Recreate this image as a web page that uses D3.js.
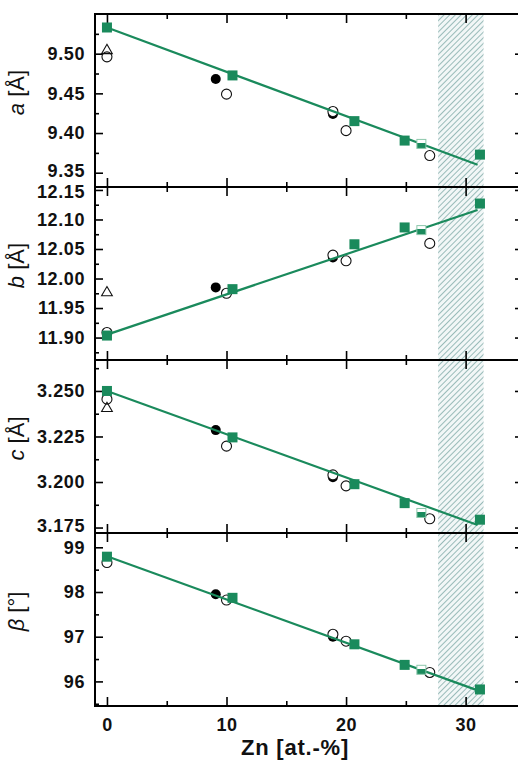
<!DOCTYPE html>
<html><head><meta charset="utf-8">
<script src="https://cdn.jsdelivr.net/npm/d3@7"></script>
<style>body{margin:0;background:#fff}svg{display:block}</style>
</head><body><svg id="chart" width="518" height="762"></svg>
<script>
// ---------- data ----------
const xDomain = [-1, 34.8];
const xTicksMajor = [0, 10, 20, 30];
const xTicksMinor = [5, 15, 25];
const hatchRange = [27.7, 31.5];
const fitX = [0, 31];

const squareX = [0, 10.5, 20.7, 24.9, 31.2];
const halfSquareX = [26.3];
const openCircleX = [0, 10.0, 18.9, 20.0, 27.0];
const filledCircleX = [9.1, 18.9];
const triangleX = [0];

// panel a
const aDomain = [9.332, 9.55];
const aTicks = [9.35, 9.40, 9.45, 9.50];
const aMinor = [9.375, 9.425, 9.475, 9.525];
const aSquares = [9.533, 9.4726, 9.415, 9.3905, 9.3728];
const aHalf = [9.3863];
const aOpen = [9.496, 9.449, 9.4271, 9.403, 9.3716];
const aFilled = [9.468, 9.424];
const aTri = [9.504];
const aFit = [9.533, 9.360];

// panel b
const bDomain = [11.862, 12.155];
const bTicks = [11.90, 11.95, 12.00, 12.05, 12.10, 12.15];
const bMinor = [11.875, 11.925, 11.975, 12.025, 12.075, 12.125];
const bSquares = [11.9034, 11.982, 12.058, 12.0865, 12.127];
const bHalf = [12.082];
const bOpen = [11.9085, 11.975, 12.0397, 12.030, 12.0595];
const bFilled = [11.985, 12.0358];
const bTri = [11.976];
const bFit = [11.905, 12.116];

// panel c
const cDomain = [3.172, 3.267];
const cTicks = [3.175, 3.200, 3.225, 3.250];
const cMinor = [3.1875, 3.2125, 3.2375, 3.2625];
const cSquares = [3.250, 3.2245, 3.1988, 3.1884, 3.1793];
const cHalf = [3.183];
const cOpen = [3.2455, 3.2197, 3.2039, 3.1979, 3.1798];
const cFilled = [3.2285, 3.2026];
const cTri = [3.2404];
const cFit = [3.250, 3.1764];

// panel beta
const dDomain = [95.45, 99.32];
const dTicks = [96, 97, 98, 99];
const dMinor = [95.5, 96.5, 97.5, 98.5];
const dSquares = [98.79, 97.87, 96.83, 96.37, 95.82];
const dHalf = [96.26];
const dOpen = [98.66, 97.82, 97.054, 96.90, 96.20];
const dFilled = [97.95, 97.00];
const dTri = [];
const dFit = [98.80, 95.80];

const xTitle = "Zn [at.-%]";

// ---------- layout ----------
const pL = 95, pR = 523, pT = 14, panelH = 173;
const green = "#1a8a5c";
const svg = d3.select("#chart");
const x = d3.scaleLinear().domain(xDomain).range([pL, pR]);

const panels = [
  {v:"a", unit:"[Å]", dom:aDomain, ticks:aTicks, minor:aMinor, fmt:".2f", sq:aSquares, half:aHalf, open:aOpen, filled:aFilled, tri:aTri, fit:aFit},
  {v:"b", unit:"[Å]", dom:bDomain, ticks:bTicks, minor:bMinor, fmt:".2f", sq:bSquares, half:bHalf, open:bOpen, filled:bFilled, tri:bTri, fit:bFit},
  {v:"c", unit:"[Å]", dom:cDomain, ticks:cTicks, minor:cMinor, fmt:".3f", sq:cSquares, half:cHalf, open:cOpen, filled:cFilled, tri:cTri, fit:cFit},
  {v:"β", unit:"[°]", dom:dDomain, ticks:dTicks, minor:dMinor, fmt:"d", sq:dSquares, half:dHalf, open:dOpen, filled:dFilled, tri:dTri, fit:dFit}
];

const defs = svg.append("defs");
const pat = defs.append("pattern").attr("id","hatch").attr("patternUnits","userSpaceOnUse")
  .attr("width",4).attr("height",4).attr("patternTransform","rotate(45)");
pat.append("rect").attr("width",4).attr("height",4).attr("fill","#f2f7f7");
pat.append("line").attr("x1",0).attr("y1",0).attr("x2",0).attr("y2",4)
  .attr("stroke","#5d9290").attr("stroke-width",1.2);
const grad = defs.append("linearGradient").attr("id","halfsq").attr("x1",0).attr("y1",0).attr("x2",0).attr("y2",1);
grad.append("stop").attr("offset","0.4").attr("stop-color","#ffffff");
grad.append("stop").attr("offset","0.4").attr("stop-color",green);

const pB = pT + panelH * panels.length;

// hatch spanning all panels
svg.append("rect")
  .attr("x", x(hatchRange[0])).attr("width", x(hatchRange[1]) - x(hatchRange[0]))
  .attr("y", pT).attr("height", pB - pT)
  .attr("fill","url(#hatch)");

const tickFont = "'Liberation Sans', Arial, sans-serif";

panels.forEach((p, i) => {
  const y0 = pT + i * panelH, y1 = y0 + panelH;
  const y = d3.scaleLinear().domain(p.dom).range([y1, y0]);
  const g = svg.append("g");

  // axes
  const yAx = g.append("g").attr("transform",`translate(${pL},0)`)
    .call(d3.axisLeft(y).tickValues(p.ticks).tickFormat(d3.format(p.fmt)).tickSizeInner(-8).tickSizeOuter(0).tickPadding(10));
  yAx.select(".domain").remove();
  yAx.selectAll("text").attr("font-family",tickFont).attr("font-weight","bold").attr("font-size",18).attr("letter-spacing","0.6px").attr("fill","#111");
  // keep stacked labels at panel joins apart, as in the reference
  yAx.selectAll(".tick").filter(d => y(d) > y1 - 20).select("text").attr("dy","0.2em");
  yAx.selectAll(".tick").filter(d => y(d) < y0 + 6).select("text").attr("dy","0.42em");
  const yMin = g.append("g").attr("transform",`translate(${pL},0)`)
    .call(d3.axisLeft(y).tickValues(p.minor).tickFormat("").tickSizeInner(-4).tickSizeOuter(0));
  yMin.select(".domain").remove();
  const yR = g.append("g").attr("transform",`translate(${pR},0)`)
    .call(d3.axisRight(y).tickValues(p.ticks).tickFormat("").tickSizeInner(-8).tickSizeOuter(0));
  yR.select(".domain").remove();
  const yRm = g.append("g").attr("transform",`translate(${pR},0)`)
    .call(d3.axisRight(y).tickValues(p.minor).tickFormat("").tickSizeInner(-4).tickSizeOuter(0));
  yRm.select(".domain").remove();

  const xTop = g.append("g").attr("transform",`translate(0,${y0})`)
    .call(d3.axisTop(x).tickValues(xTicksMajor).tickFormat("").tickSizeInner(-9).tickSizeOuter(0));
  xTop.select(".domain").remove();
  const xTopM = g.append("g").attr("transform",`translate(0,${y0})`)
    .call(d3.axisTop(x).tickValues(xTicksMinor).tickFormat("").tickSizeInner(-5).tickSizeOuter(0));
  xTopM.select(".domain").remove();
  const isLast = i === panels.length - 1;
  const xBot = g.append("g").attr("transform",`translate(0,${y1})`)
    .call(d3.axisBottom(x).tickValues(xTicksMajor).tickFormat(isLast ? d3.format("d") : "").tickSizeInner(-9).tickSizeOuter(0).tickPadding(12));
  xBot.select(".domain").remove();
  xBot.selectAll("text").attr("font-family",tickFont).attr("font-weight","bold").attr("font-size",18).attr("letter-spacing","0.6px").attr("fill","#111");
  const xBotM = g.append("g").attr("transform",`translate(0,${y1})`)
    .call(d3.axisBottom(x).tickValues(xTicksMinor).tickFormat("").tickSizeInner(-5).tickSizeOuter(0));
  xBotM.select(".domain").remove();
  g.selectAll(".tick line").attr("stroke","#000").attr("stroke-width",1.6);

  // frame
  g.append("rect").attr("x",pL).attr("y",y0).attr("width",pR-pL).attr("height",panelH)
    .attr("fill","none").attr("stroke","#000").attr("stroke-width",2);

  // y title
  const t = g.append("text")
    .attr("transform",`translate(24,${(y0+y1)/2 - 8}) rotate(-90)`)
    .attr("text-anchor","middle").attr("font-family",tickFont).attr("font-size",22).attr("fill","#111");
  t.append("tspan").attr("font-style","italic").text(p.v);
  t.append("tspan").text(" " + p.unit);

  // markers
  g.selectAll(".fc").data(p.filled).join("circle")
    .attr("cx",(d,j)=>x(filledCircleX[j])).attr("cy",d=>y(d)).attr("r",5).attr("fill","#000");
  g.selectAll(".oc").data(p.open).join("circle")
    .attr("cx",(d,j)=>x(openCircleX[j])).attr("cy",d=>y(d)).attr("r",5)
    .attr("fill","#fff").attr("stroke","#111").attr("stroke-width",1.1);
  const tri = d3.symbol().type(d3.symbolTriangle).size(50);
  g.selectAll(".tr").data(p.tri).join("path")
    .attr("d",tri).attr("transform",(d,j)=>`translate(${x(triangleX[j])},${y(d)})`)
    .attr("fill","none").attr("stroke","#111").attr("stroke-width",1.1);

  // fit line
  g.append("path").datum(p.fit)
    .attr("d", d3.line().x((d,j)=>x(fitX[j])).y(d=>y(d)))
    .attr("fill","none").attr("stroke",green).attr("stroke-width",2.2);

  // squares
  g.selectAll(".hs").data(p.half).join("rect")
    .attr("x",(d,j)=>x(halfSquareX[j])-4.5).attr("y",d=>y(d)-4.5).attr("width",9).attr("height",9)
    .attr("fill","url(#halfsq)").attr("stroke","#8cc7ab").attr("stroke-width",1);
  g.selectAll(".sq").data(p.sq).join("rect")
    .attr("x",(d,j)=>x(squareX[j])-5).attr("y",d=>y(d)-5).attr("width",10).attr("height",10)
    .attr("fill",green);
});

svg.append("text").attr("x",295).attr("y",755).attr("text-anchor","middle")
  .attr("font-family",tickFont).attr("font-weight","bold").attr("font-size",22).attr("letter-spacing","0.8px")
  .attr("fill","#111").text(xTitle);
</script></body></html>
